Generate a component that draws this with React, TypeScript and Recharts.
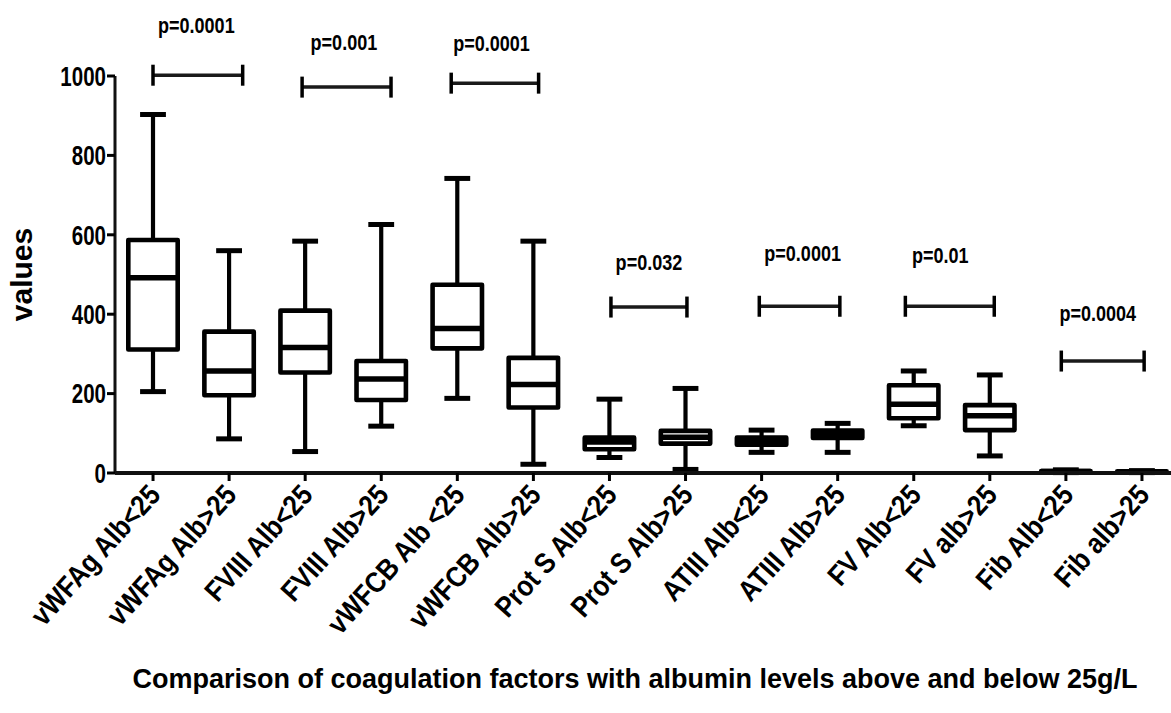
import React from "react";
import { ComposedChart, Bar, XAxis, YAxis } from "recharts";

// ---- data ----
const categories = [
  "vWFAg Alb<25",
  "vWFAg Alb>25",
  "FVIII Alb<25",
  "FVIII Alb>25",
  "vWFCB Alb <25",
  "vWFCB Alb>25",
  "Prot S Alb<25",
  "Prot S Alb>25",
  "ATIII Alb<25",
  "ATIII Alb>25",
  "FV Alb<25",
  "FV alb>25",
  "Fib Alb<25",
  "Fib alb>25",
];
const mins = [205, 86, 54, 118, 188, 22, 39, 9, 52, 52, 119, 43, 1, 1];
const q1s = [311, 196, 253, 184, 314, 165, 60, 74, 71, 88, 138, 108, 2.5, 2.5];
const medians = [492, 257, 316, 237, 364, 223, 78, 90, 80, 97, 173, 144, 3.5, 3.2];
const q3s = [587, 356, 409, 282, 474, 290, 89, 106, 89, 107, 221, 171, 5, 4.5];
const maxs = [903, 560, 584, 626, 742, 584, 186, 213, 108, 125, 257, 247, 8, 6];

const yTicks = [0, 200, 400, 600, 800, 1000];

// comparisons (left category index of each pair)
const pairStart = [0, 2, 4, 6, 8, 10, 12];
const pLabels = ["p=0.0001", "p=0.001", "p=0.0001", "p=0.032", "p=0.0001", "p=0.01", "p=0.0004"];
const bracketLevel = [1002, 972, 982, 418, 420, 420, 282];
const pLabelLevel = [1128, 1086, 1083, 531, 554, 549, 403];
// annotation placement in category units, relative to the left box
const bracketFrom = [0, -0.04, -0.08, 0.02, -0.03, -0.11, -0.06];
const bracketTo = [1.18, 1.13, 1.07, 1.02, 1.03, 1.06, 1.03];
const pLabelAt = [0.57, 0.51, 0.45, 0.52, 0.54, 0.35, 0.42];

const rows = categories.map((name, i) => ({
  name,
  idx: i,
  min: mins[i],
  q1: q1s[i],
  median: medians[i],
  q3: q3s[i],
  max: maxs[i],
}));

const FONT = "'Liberation Sans', Arial, Helvetica, sans-serif";
const INK = "#000";

const BoxShape = (props: any) => {
  const { x, y, width, height, payload } = props;
  if (!payload || !isFinite(height) || height <= 0) return null;
  const base = y + height;
  const ppu = height / payload.max;
  const py = (v: number) => base - v * ppu;
  const cx = x + width / 2;
  const bw = width * 0.65;
  const cw = width * 0.34;
  const yMax = py(payload.max);
  const yMin = py(payload.min);
  const yQ1 = py(payload.q1);
  const yQ3 = py(payload.q3);
  const yMed = py(payload.median);
  const k = pairStart.indexOf(payload.idx);
  let bracket = null;
  if (k >= 0) {
    const by = py(bracketLevel[k]);
    const bx1 = cx + bracketFrom[k] * width;
    const bx2 = cx + bracketTo[k] * width;
    const tx = cx + pLabelAt[k] * width;
    const ty = py(pLabelLevel[k]);
    bracket = (
      <g>
        <line x1={bx1} x2={bx2} y1={by} y2={by} stroke="#1a1a1a" strokeWidth={3.5} />
        <line x1={bx1} x2={bx1} y1={by - 10.5} y2={by + 10.5} stroke={INK} strokeWidth={3.5} />
        <line x1={bx2} x2={bx2} y1={by - 10.5} y2={by + 10.5} stroke={INK} strokeWidth={3.5} />
        <g transform={`translate(${tx},${ty}) scale(0.82,1)`}>
          <text
            x={0}
            y={0}
            dy="0.36em"
            textAnchor="middle"
            fontFamily={FONT}
            fontWeight="bold"
            fontSize={22}
            fill={INK}
          >
            {pLabels[k]}
          </text>
        </g>
      </g>
    );
  }
  return (
    <g>
      <line x1={cx} x2={cx} y1={yMax} y2={yQ3} stroke={INK} strokeWidth={4.2} />
      <line x1={cx} x2={cx} y1={yQ1} y2={yMin} stroke={INK} strokeWidth={4.2} />
      <line x1={cx - cw / 2} x2={cx + cw / 2} y1={yMax} y2={yMax} stroke={INK} strokeWidth={5} />
      <line x1={cx - cw / 2} x2={cx + cw / 2} y1={yMin} y2={yMin} stroke={INK} strokeWidth={5} />
      <rect
        x={cx - bw / 2}
        y={yQ3}
        width={bw}
        height={Math.max(yQ1 - yQ3, 0.1)}
        fill="#fff"
        stroke={INK}
        strokeWidth={4.6}
        strokeLinejoin="round"
      />
      <line x1={cx - bw / 2} x2={cx + bw / 2} y1={yMed} y2={yMed} stroke={INK} strokeWidth={5.5} />
      {bracket}
    </g>
  );
};

const XTick = (props: any) => {
  const { x, y, payload } = props;
  return (
    <g transform={`translate(${x + 9},${y + 13}) rotate(-48) scale(0.88,1)`}>
      <text
        x={0}
        y={0}
        textAnchor="end"
        fontFamily={FONT}
        fontWeight="bold"
        fontSize={29}
        fill={INK}
      >
        {payload.value}
      </text>
    </g>
  );
};

const YTick = (props: any) => {
  const { x, y, payload } = props;
  return (
    <g transform={`translate(${x + 4},${y}) scale(0.76,1)`}>
      <text
        x={0}
        y={0}
        dy="0.36em"
        textAnchor="end"
        fontFamily={FONT}
        fontWeight="bold"
        fontSize={27}
        fill={INK}
      >
        {payload.value}
      </text>
    </g>
  );
};

const YLabel = (props: any) => {
  const vb = props.viewBox || { x: 0, y: 76, width: 115, height: 397 };
  const cy = vb.y + vb.height / 2;
  return (
    <text
      x={32}
      y={cy}
      transform={`rotate(-90, 32, ${cy})`}
      textAnchor="middle"
      fontFamily={FONT}
      fontWeight="bold"
      fontSize={30}
      fill={INK}
    >
      values
    </text>
  );
};

export default function App() {
  return (
    <div
      style={{
        position: "absolute",
        left: 0,
        top: 0,
        width: 1171,
        height: 713,
        overflow: "hidden",
        background: "#fff",
      }}
    >
      <ComposedChart
        width={1180}
        height={713}
        data={rows}
        margin={{ top: 76, right: 0, bottom: 0, left: 0 }}
        barCategoryGap={0}
        barGap={0}
      >
        <XAxis
          dataKey="name"
          interval={0}
          height={240}
          tick={<XTick />}
          tickSize={8}
          axisLine={{ stroke: "#111", strokeWidth: 4 }}
          tickLine={{ stroke: INK, strokeWidth: 3 }}
        />
        <YAxis
          width={115}
          domain={[0, 1000]}
          ticks={yTicks}
          interval={0}
          tickSize={8}
          tickMargin={5}
          axisLine={{ stroke: "#111", strokeWidth: 3 }}
          tickLine={{ stroke: INK, strokeWidth: 3 }}
          tick={<YTick />}
          label={<YLabel />}
        />
        <Bar dataKey="max" shape={<BoxShape />} isAnimationActive={false} />
      </ComposedChart>
      <div
        style={{
          position: "absolute",
          left: 0,
          top: 665,
          width: 1270,
          textAlign: "center",
          fontFamily: FONT,
          fontWeight: "bold",
          fontSize: 27,
          lineHeight: "28px",
          color: INK,
          whiteSpace: "nowrap",
        }}
      >
        Comparison of coagulation factors with albumin levels above and below 25g/L
      </div>
    </div>
  );
}
